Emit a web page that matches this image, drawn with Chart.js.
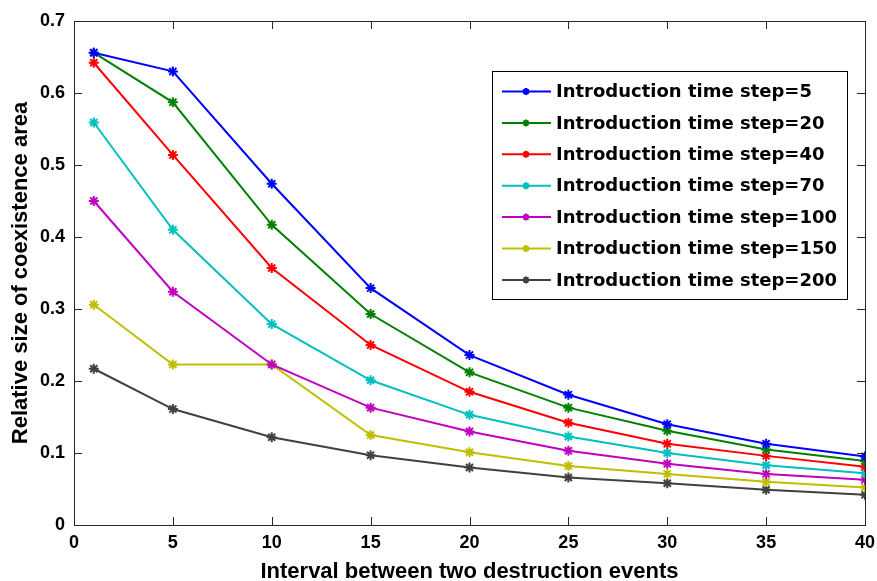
<!DOCTYPE html>
<html>
<head>
    <title>Coexistence area</title>
    <script src="https://cdn.jsdelivr.net/npm/chart.js"></script>
    <style>
        body { margin: 0; background: #fff; }
        #wrap { width: 877px; height: 581px; }
    </style>
</head>
<body>
    <div id="wrap"><canvas id="graph"></canvas></div>
    <script>
        const intervals = [1, 5, 10, 15, 20, 25, 30, 35, 40];
        const seriesLabels = [
            'Introduction time step=5',
            'Introduction time step=20',
            'Introduction time step=40',
            'Introduction time step=70',
            'Introduction time step=100',
            'Introduction time step=150',
            'Introduction time step=200'
        ];
        const step5 = [0.656, 0.630, 0.474, 0.329, 0.236, 0.181, 0.140, 0.113, 0.095];
        const step20 = [0.656, 0.587, 0.417, 0.293, 0.212, 0.163, 0.131, 0.105, 0.089];
        const step40 = [0.642, 0.514, 0.357, 0.250, 0.185, 0.142, 0.113, 0.096, 0.081];
        const step70 = [0.559, 0.410, 0.279, 0.201, 0.153, 0.123, 0.100, 0.083, 0.072];
        const step100 = [0.450, 0.324, 0.223, 0.163, 0.130, 0.103, 0.085, 0.071, 0.063];
        const step150 = [0.306, 0.223, 0.223, 0.125, 0.101, 0.082, 0.071, 0.060, 0.052];
        const step200 = [0.217, 0.161, 0.122, 0.097, 0.080, 0.066, 0.058, 0.049, 0.042];
        const colors = ['#0000ff', '#008000', '#ff0000', '#00bfbf', '#bf00bf', '#bfbf00', '#404040'];

        const allSeries = [step5, step20, step40, step70, step100, step150, step200];
        const fam = 'Arial, "Liberation Sans", sans-serif';
        const tickFont = { family: fam, weight: 'bold', size: 18 };
        const titleFont = { family: fam, weight: 'bold', size: 22, lineHeight: 0.8 };

        // box around the plot with inward ticks, like matlab
        const boxPlugin = {
            id: 'box',
            afterDraw(chart) {
                const { ctx, chartArea: a, scales } = chart;
                ctx.save();
                ctx.strokeStyle = '#262626';
                ctx.lineWidth = 1;
                ctx.strokeRect(a.left + 0.5, a.top + 0.5, a.right - a.left, a.bottom - a.top);
                ctx.beginPath();
                scales.x.ticks.forEach(t => {
                    const px = Math.round(scales.x.getPixelForValue(t.value)) + 0.5;
                    ctx.moveTo(px, a.bottom); ctx.lineTo(px, a.bottom - 8);
                    ctx.moveTo(px, a.top); ctx.lineTo(px, a.top + 8);
                });
                scales.y.ticks.forEach(t => {
                    const py = Math.round(scales.y.getPixelForValue(t.value)) + 0.5;
                    ctx.moveTo(a.left, py); ctx.lineTo(a.left + 8, py);
                    ctx.moveTo(a.right, py); ctx.lineTo(a.right - 8, py);
                });
                ctx.stroke();

                // legend
                const lx = 492, ly = 71, lw = 355, lh = 228;
                ctx.fillStyle = '#fff';
                ctx.fillRect(lx, ly, lw, lh);
                ctx.strokeStyle = '#000';
                ctx.strokeRect(lx + 0.5, ly + 0.5, lw, lh);
                ctx.font = 'bold 18px "DejaVu Sans", sans-serif';
                ctx.textBaseline = 'middle';
                chart.data.datasets.forEach((ds, i) => {
                    const y = 91.5 + i * 31.4;
                    ctx.strokeStyle = ds.borderColor;
                    ctx.fillStyle = ds.borderColor;
                    ctx.lineWidth = 2;
                    ctx.beginPath();
                    ctx.moveTo(502, y); ctx.lineTo(551, y);
                    ctx.stroke();
                    Chart.helpers.drawPoint(ctx, { pointStyle: 'star', radius: 3.5, borderWidth: 2 }, 526, y);
                    ctx.fillStyle = '#000';
                    ctx.fillText(ds.label, 556, y + 1);
                });
                ctx.restore();
            }
        };

        const ctx = document.getElementById('graph').getContext('2d');
        new Chart(ctx, {
            type: 'line',
            data: {
                labels: intervals,
                datasets: allSeries.map((s, i) => ({
                    label: seriesLabels[i],
                    data: s.map((v, j) => ({ x: intervals[j], y: v })),
                    borderColor: colors[i],
                    backgroundColor: colors[i],
                    borderWidth: 2,
                    pointStyle: 'star',
                    pointRadius: 5,
                    pointBorderWidth: 2,
                    tension: 0,
                    fill: false
                }))
            },
            options: {
                responsive: true,
                maintainAspectRatio: false,
                animation: false,
                layout: { padding: { top: 21, right: 12, left: 0, bottom: 0 } },
                plugins: { legend: { display: false }, tooltip: { enabled: false } },
                scales: {
                    x: {
                        type: 'linear',
                        min: 0, max: 40,
                        afterFit(scale) { scale.height = 56; scale.paddingLeft = 0; scale.paddingRight = 0; },
                        ticks: { stepSize: 5, color: '#000', font: tickFont, padding: 7, maxRotation: 0 },
                        grid: { display: false, drawTicks: false },
                        border: { display: false },
                        title: { display: true, text: 'Interval between two destruction events', color: '#000', font: titleFont, padding: { top: 0, bottom: 0 } }
                    },
                    y: {
                        min: 0, max: 0.7,
                        afterFit(scale) { scale.width = 74; scale.paddingTop = 0; scale.paddingBottom = 0; },
                        ticks: { stepSize: 0.1, color: '#000', font: tickFont, padding: 9 },
                        grid: { display: false, drawTicks: false },
                        border: { display: false },
                        title: { display: true, text: 'Relative size of coexistence area', color: '#000', font: Object.assign({}, titleFont, { lineHeight: 1 }), padding: { top: 10, bottom: 0 } }
                    }
                }
            },
            plugins: [boxPlugin]
        });
    </script>
</body>
</html>
